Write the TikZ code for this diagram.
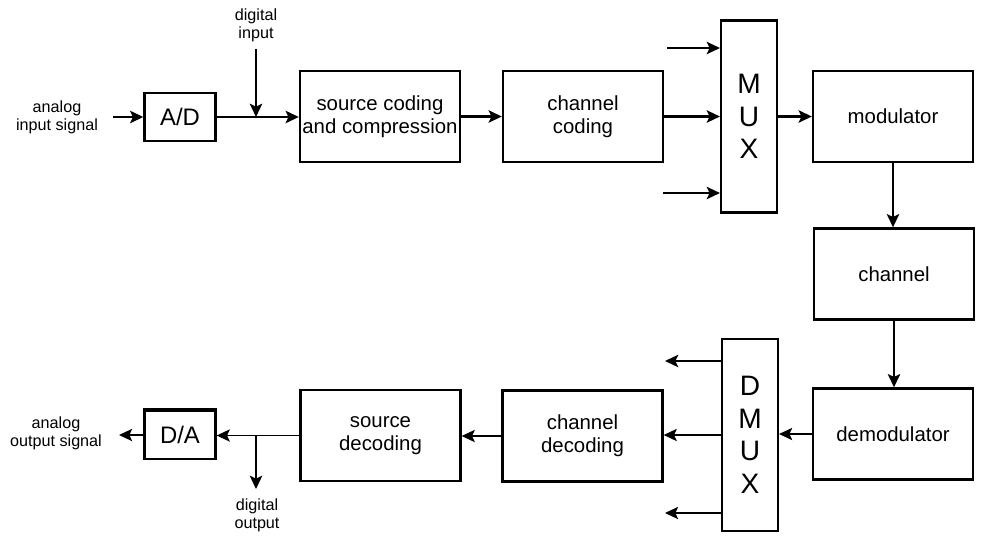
\documentclass[tikz,border=0pt]{standalone}
\usepackage{fontspec}
\setmainfont{Liberation Sans}
\usetikzlibrary{arrows.meta}
\tikzset{
  block/.style={draw, line width=1.35pt, minimum width=3.2cm, minimum height=1.82cm,
    inner sep=0pt, align=center, font=\fontsize{11.6}{13}\selectfont},
  conv/.style={draw, line width=1.35pt, minimum width=1.42cm, minimum height=0.96cm,
    inner sep=0pt, font=\fontsize{13.6}{15}\selectfont},
  muxbox/.style={draw, line width=1.2pt, minimum width=1.12cm, minimum height=3.84cm,
    inner sep=0pt, align=center, font=\fontsize{16}{18.5}\selectfont},
  lbl/.style={align=center, inner sep=0pt, font=\fontsize{9.2}{10.4}\selectfont},
  thickarr/.style={-{Stealth[length=7.5pt,width=7pt,inset=1.6pt]}, line width=1.4pt},
  thinarr/.style={-{Stealth[length=7.5pt,width=7pt,inset=1.6pt]}, line width=0.75pt},
}
\begin{document}
\begin{tikzpicture}[x=0.02cm, y=-0.02cm]
  \useasboundingbox (0,0) rectangle (984,535);
  % Transmitter
  \node[conv] (ad) at (180,117) {A/D};
  \node[block] (src) at (380,116.5) {source coding\\and compression};
  \node[block] (chc) at (583,116.5) {channel\\coding};
  \node[muxbox] (mux) at (749,116.5) {M\\U\\X};
  \node[block] (mod) at (893,116.5) {modulator};
  % Channel
  \node[block] (chan) at (894,274) {channel};
  % Receiver
  \node[block] (dem) at (893,434) {demodulator};
  \node[muxbox] (dmux) at (750,435) {D\\M\\U\\X};
  \node[block] (chd) at (582.5,436) {channel\\decoding};
  \node[block] (srd) at (380.5,435.5) {source\\decoding};
  \node[conv] (da) at (180,435) {D/A};
  \draw[line width=2.4pt] (da.north west) -- (da.north east);
  % Labels
  \node[lbl] (ain) at (57,117.5) {analog\\input signal};
  \node[lbl] (din) at (256,25) {digital\\input};
  \node[lbl] (aout) at (56,433) {analog\\output signal};
  \node[lbl] (dout) at (257,515) {digital\\output};
  \coordinate (ainend) at (113,117);
  \coordinate (dinend) at (256,49);
  \coordinate (muxa) at (667,48);
  \coordinate (muxb) at (663,193);
  \coordinate (dmuxa) at (665,361);
  \coordinate (dmuxb) at (665,513);
  \coordinate (aoutend) at (119,435);
  \coordinate (doutend) at (256,489);
  % Forward path
  \draw[thickarr] (ainend) -- (ad.west);
  \draw[thickarr] (ad.east) -- (ad.east -| src.west);
  \draw[thickarr] (dinend) -- (dinend |- ad.east);
  \draw[thickarr] (src.east) -- (chc.west);
  \draw[thickarr] (chc.east) -- (mux.west);
  \draw[thickarr] (muxa) -- (muxa -| mux.west);
  \draw[thickarr] (muxb) -- (muxb -| mux.west);
  \draw[thickarr] (mux.east) -- (mod.west);
  \draw[thickarr] (mod.south) -- (mod.south |- chan.north);
  \draw[thickarr] (chan.south) -- (chan.south |- dem.north);
  % Return path
  \draw[thinarr] (dem.west) -- (dem.west -| dmux.east);
  \draw[thinarr] (dmux.west) -- (dmux.west -| chd.east);
  \draw[thickarr] (dmuxa -| dmux.west) -- (dmuxa);
  \draw[thinarr] (dmuxb -| dmux.west) -- (dmuxb);
  \draw[thinarr] (chd.west) -- (chd.west -| srd.east);
  \draw[thinarr] (srd.west) -- (srd.west -| da.east);
  \draw[thickarr] (doutend |- srd.west) -- (doutend);
  \draw[thinarr] (da.west) -- (aoutend);
\end{tikzpicture}
\end{document}
